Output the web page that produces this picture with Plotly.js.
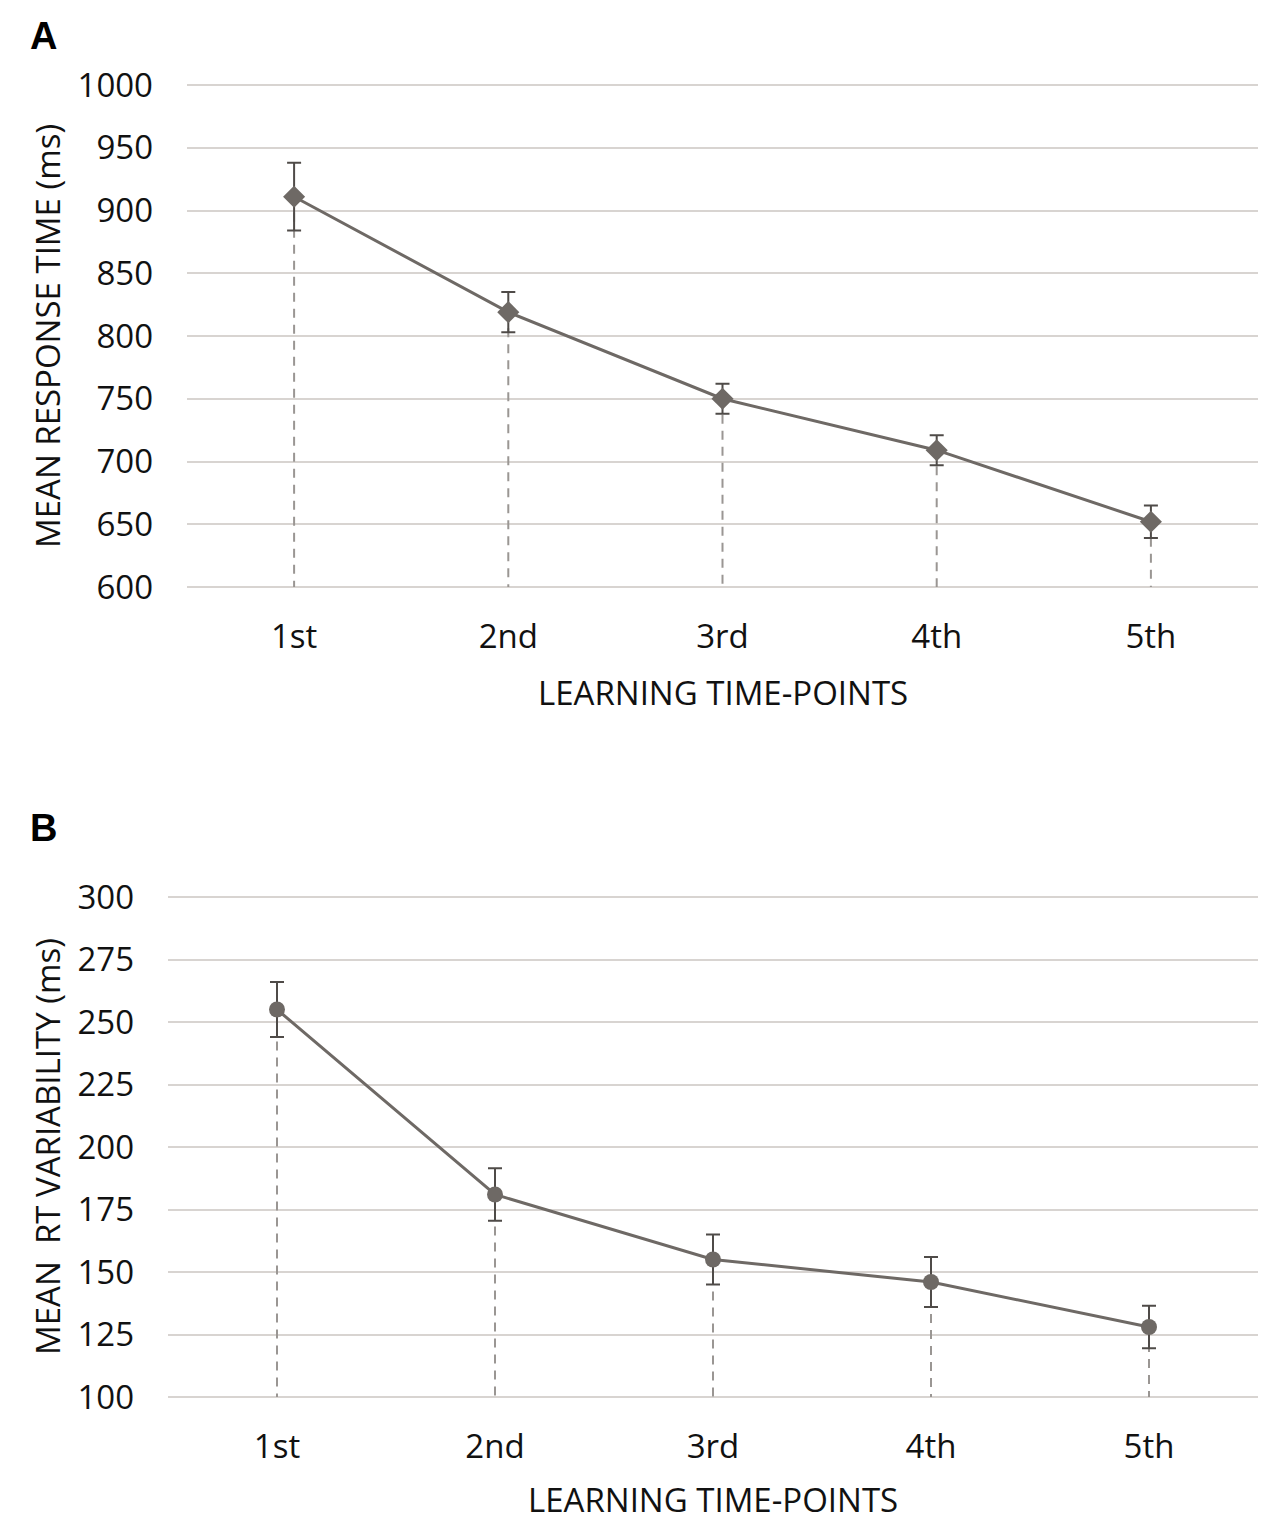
<!DOCTYPE html>
<html>
<head>
<meta charset="utf-8">
<script src="https://cdn.plot.ly/plotly-3.0.1.min.js"></script>
<style>
  html, body { margin: 0; padding: 0; background: #fff; }
  #chart { width: 1267px; height: 1522px; }
</style>
</head>
<body>
<div id="chart"></div>
<script>
  const timePoints = ["1st", "2nd", "3rd", "4th", "5th"];

  // panel A: mean response time (ms)
  const meanRT = [911, 819, 750, 709, 652];
  const meanRTErr = [27, 16, 12, 12, 13];
  const rtTicks = [600, 650, 700, 750, 800, 850, 900, 950, 1000];

  // panel B: mean RT variability (ms)
  const rtVariability = [255, 181, 155, 146, 128];
  const rtVariabilityErr = [11, 10.5, 10, 10, 8.5];
  const varTicks = [100, 125, 150, 175, 200, 225, 250, 275, 300];

  const W = 1267, H = 1522;
  const lineColor = "#6e6965";
  const textColor = "#111";
  const tickFont = { family: "Open Sans", size: 33, color: textColor };

  // dashed drop lines from each point down to the bottom of the axis
  const dropLines = (values, floor) => {
    const xs = [], ys = [];
    values.forEach((v, i) => {
      xs.push(timePoints[i], timePoints[i], null);
      ys.push(v, floor, null);
    });
    return { x: xs, y: ys };
  };

  const dropA = dropLines(meanRT, rtTicks[0]);
  const dropB = dropLines(rtVariability, varTicks[0]);

  const traces = [
    {
      x: dropA.x, y: dropA.y, xaxis: "x", yaxis: "y",
      mode: "lines", type: "scatter", connectgaps: false,
      line: { color: "#9a9693", width: 2, dash: "9px,7px" },
      hoverinfo: "skip",
    },
    {
      x: timePoints, y: meanRT, xaxis: "x", yaxis: "y",
      mode: "lines+markers", type: "scatter",
      line: { color: lineColor, width: 3 },
      marker: { symbol: "diamond", size: 17, color: lineColor },
      error_y: { type: "data", array: meanRTErr, visible: true, color: "#4f4b48", thickness: 2, width: 7 },
    },
    {
      x: dropB.x, y: dropB.y, xaxis: "x2", yaxis: "y2",
      mode: "lines", type: "scatter", connectgaps: false,
      line: { color: "#9a9693", width: 2, dash: "9px,7px" },
      hoverinfo: "skip",
    },
    {
      x: timePoints, y: rtVariability, xaxis: "x2", yaxis: "y2",
      mode: "lines+markers", type: "scatter",
      line: { color: lineColor, width: 3 },
      marker: { symbol: "circle", size: 16, color: lineColor },
      error_y: { type: "data", array: rtVariabilityErr, visible: true, color: "#4f4b48", thickness: 2, width: 7 },
    },
  ];

  const xAxisBase = {
    type: "category",
    range: [-0.5, 4.5],
    showgrid: false,
    zeroline: false,
    showline: false,
    ticks: "",
    tickfont: tickFont,
    ticklabelstandoff: 25,
    fixedrange: true,
  };

  const yAxisBase = {
    showgrid: true,
    gridcolor: "#d8d4d1",
    gridwidth: 2,
    zeroline: false,
    showline: false,
    ticks: "",
    tickfont: tickFont,
    ticklabelstandoff: 33,
    fixedrange: true,
  };

  const titleFont = { family: "Open Sans", size: 33, color: textColor };

  const layout = {
    width: W,
    height: H,
    margin: { l: 0, r: 0, t: 0, b: 0 },
    paper_bgcolor: "#fff",
    plot_bgcolor: "#fff",
    showlegend: false,
    xaxis: { ...xAxisBase, domain: [187 / W, 1258 / W], anchor: "y" },
    yaxis: {
      ...yAxisBase, domain: [1 - 589 / H, 1 - 83 / H], anchor: "x",
      range: [rtTicks[0] - 1.6, rtTicks[rtTicks.length - 1] + 1.6], tickvals: rtTicks,
    },
    xaxis2: { ...xAxisBase, domain: [168 / W, 1258 / W], anchor: "y2" },
    yaxis2: {
      ...yAxisBase, domain: [1 - 1399 / H, 1 - 895 / H], anchor: "x2",
      range: [varTicks[0] - 0.8, varTicks[varTicks.length - 1] + 0.8], tickvals: varTicks,
    },
    annotations: [
      { text: "A", xref: "paper", yref: "paper", x: 28 / W, y: 1 - 36 / H, xanchor: "left", yanchor: "middle",
        showarrow: false, font: { family: "Liberation Sans", size: 38, color: "#000", weight: "bold" } },
      { text: "B", xref: "paper", yref: "paper", x: 28 / W, y: 1 - 828 / H, xanchor: "left", yanchor: "middle",
        showarrow: false, font: { family: "Liberation Sans", size: 38, color: "#000", weight: "bold" } },
      { text: "MEAN RESPONSE TIME (ms)", xref: "paper", yref: "paper", x: 47 / W, y: 1 - 336 / H,
        xanchor: "center", yanchor: "middle", textangle: -90, showarrow: false, font: titleFont },
      { text: "LEARNING TIME-POINTS", xref: "paper", yref: "paper", x: 723 / W, y: 1 - 692 / H,
        xanchor: "center", yanchor: "middle", showarrow: false, font: titleFont },
      { text: "MEAN&nbsp;&nbsp;RT VARIABILITY (ms)", xref: "paper", yref: "paper", x: 47 / W, y: 1 - 1147 / H,
        xanchor: "center", yanchor: "middle", textangle: -90, showarrow: false, font: titleFont },
      { text: "LEARNING TIME-POINTS", xref: "paper", yref: "paper", x: 713 / W, y: 1 - 1499 / H,
        xanchor: "center", yanchor: "middle", showarrow: false, font: titleFont, borderpad: 0 },
    ],
  };

  const config = { displayModeBar: false, staticPlot: true };

  Plotly.newPlot("chart", traces, layout, config);
</script>
</body>
</html>
